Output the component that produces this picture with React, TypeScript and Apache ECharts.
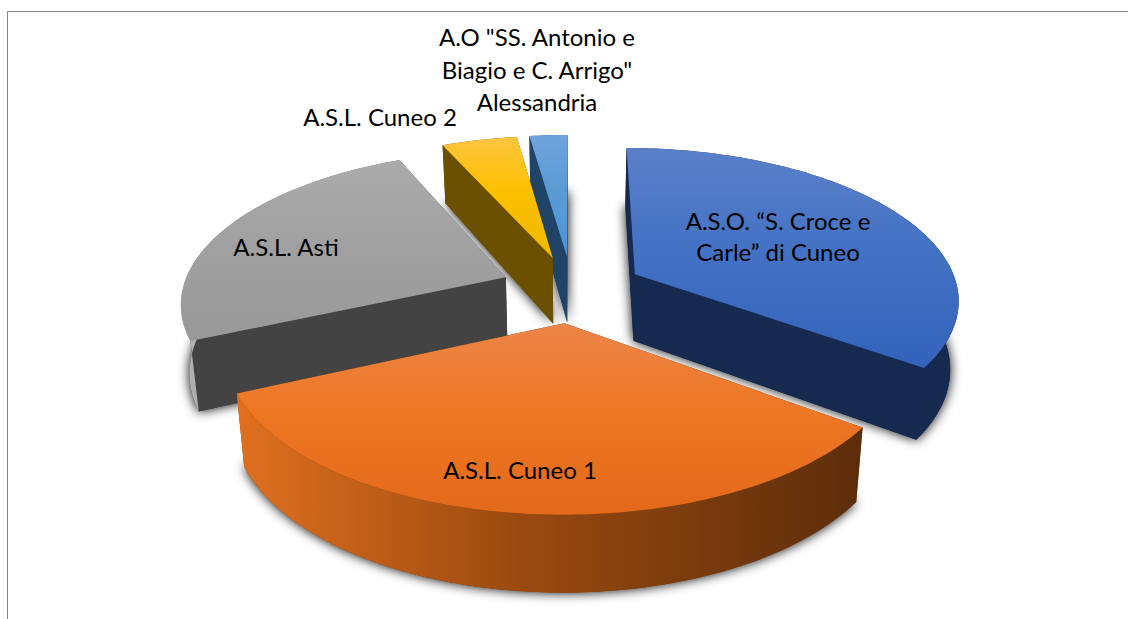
import React, { useEffect, useRef } from "react";
import * as echarts from "echarts";

const sliceNames = [
  "A.S.O. “S. Croce e\nCarle” di Cuneo",
  "A.S.L. Cuneo 1",
  "A.S.L. Asti",
  "A.S.L. Cuneo 2",
  "A.O \"SS. Antonio e\nBiagio e C. Arrigo\"\nAlessandria",
];
const sliceValues = [35, 33.3, 25, 4.45, 2.25];

const topStops = [
  ["#5b80c9", "#4472c4", "#3362bb"],
  ["#ec8549", "#ee7724", "#e3691a"],
  ["#ababab", "#a1a1a1", "#999999"],
  ["#fcc540", "#fdc000", "#efb800"],
  ["#70a3dc", "#5b9bd5", "#4c95d9"],
];
const radialWall = ["#162a4f", "#6a340c", "#434343", "#6a5000", "#1f4468"];
const arcWall = [
  ["#162a4f", "#162a4f", "#162a4f"],
  ["#e0701f", "#9a4a10", "#5c2d0a"],
  ["#b4b4b4", "#8e8e8e", "#6a6a6a"],
  ["#6a5000", "#6a5000", "#6a5000"],
  ["#1f4468", "#1f4468", "#1f4468"],
];
const labelAt = [
  [778, 236],
  [520, 469],
  [286, 246],
  [380, 116],
  [537, 69],
];
const drawOrder = [4, 3, 0, 2, 1];

const CX = 572, CY = 289, R = 325, EXPLODE = 72, UNIT = 325, XS = 0.995;

function top(X: number, Y: number) {
  const u = Y / UNIT;
  const f = 1 / (1 - 0.155 * u);
  return [CX + XS * X * f, CY + 150 * u * f, u];
}
function bottom(X: number, Y: number) {
  const [x, y, u] = top(X, Y);
  return [CX + (x - CX) * 0.978, y + 67.5 + 8.5 * u];
}
const grad = (x2: number, y2: number, c: string[]) =>
  new echarts.graphic.LinearGradient(0, 0, x2, y2, [
    { offset: 0, color: c[0] },
    { offset: 0.45, color: c[1] },
    { offset: 1, color: c[2] },
  ]);

const total = sliceValues.reduce((a, b) => a + b, 0);
const startDeg: number[] = [];
sliceValues.reduce((acc, v, i) => {
  startDeg[i] = acc;
  return acc + (v / total) * 360;
}, 0);

function renderSlice(params: any) {
  const i = drawOrder[params.dataIndex];
  const a0 = startDeg[i];
  const a1 = a0 + (sliceValues[i] / total) * 360;
  const mid = (((a0 + a1) / 2) * Math.PI) / 180;
  const ax = EXPLODE * Math.sin(mid);
  const ay = -EXPLODE * Math.cos(mid);
  const rim: number[][] = [];
  const steps = Math.max(4, Math.ceil(a1 - a0));
  for (let s = 0; s <= steps; s++) {
    const t = ((a0 + ((a1 - a0) * s) / steps) * Math.PI) / 180;
    rim.push([ax + R * Math.sin(t), ay - R * Math.cos(t)]);
  }
  const topRim = rim.map((p) => top(p[0], p[1]).slice(0, 2));
  const botRim = rim.map((p) => bottom(p[0], p[1]));
  const apexT = top(ax, ay).slice(0, 2);
  const apexB = bottom(ax, ay);
  const poly = (points: number[][], style: any) => ({
    type: "polygon",
    shape: { points },
    style,
    silent: true,
  });
  const n = rim.length - 1;
  return {
    type: "group",
    children: [
      poly([apexB, ...botRim], {
        fill: radialWall[i],
        shadowBlur: 12,
        shadowColor: "rgba(0,0,0,1)",
      }),
      poly([apexT, topRim[0], botRim[0], apexB], { fill: radialWall[i] }),
      poly([apexT, topRim[n], botRim[n], apexB], { fill: radialWall[i] }),
      poly([...topRim, ...botRim.slice().reverse()], { fill: grad(1, 0, arcWall[i]) }),
      poly([apexT, ...topRim], { fill: grad(0, 1, topStops[i]) }),
      {
        type: "text",
        x: labelAt[i][0],
        y: labelAt[i][1],
        z2: 10,
        silent: true,
        style: {
          text: sliceNames[i],
          fill: "#000000",
          font: "24px Lato",
          lineHeight: i === 0 ? 31 : 32.5,
          align: "center",
          verticalAlign: "middle",
        },
      },
    ],
  };
}

export default function App() {
  const ref = useRef<HTMLDivElement>(null);
  useEffect(() => {
    document.body.style.margin = "0";
    const chart = echarts.init(ref.current!, undefined, { renderer: "svg" });
    chart.setOption({
      animation: false,
      backgroundColor: "#ffffff",
      graphic: [
        {
          type: "polyline",
          silent: true,
          shape: { points: [[7.5, 619], [7.5, 11.5], [1128, 11.5]] },
          style: { fill: "none", stroke: "#868686", lineWidth: 1 },
        },
      ],
      series: [
        {
          type: "custom",
          coordinateSystem: "none",
          renderItem: renderSlice,
          data: drawOrder.map((i) => ({ name: sliceNames[i], value: sliceValues[i] })),
        },
      ],
    });
    return () => chart.dispose();
  }, []);
  return <div ref={ref} style={{ width: 1128, height: 619 }} />;
}
